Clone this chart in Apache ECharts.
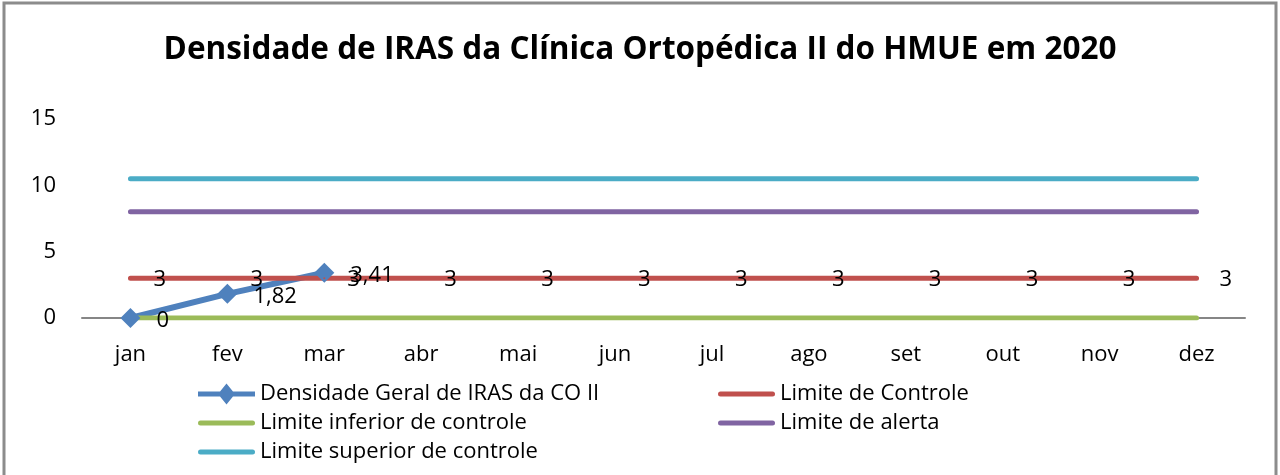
<!DOCTYPE html>
<html>
<head>
<meta charset="utf-8">
<script src="https://cdn.jsdelivr.net/npm/echarts@6/dist/echarts.min.js"></script>
<style>
  html, body { margin: 0; padding: 0; background: #fff; }
  #chart { width: 1280px; height: 475px; }
</style>
</head>
<body>
<div id="chart"></div>
<script>
// meses
const months = ["jan", "fev", "mar", "abr", "mai", "jun", "jul", "ago", "set", "out", "nov", "dez"];
// densidade geral (só jan-mar)
const densidade = [0, 1.82, 3.41];
const limiteControle = [3, 3, 3, 3, 3, 3, 3, 3, 3, 3, 3, 3];
const limiteInferior = [0, 0, 0, 0, 0, 0, 0, 0, 0, 0, 0, 0];
const limiteAlerta = [8, 8, 8, 8, 8, 8, 8, 8, 8, 8, 8, 8];
const limiteSuperior = [10.5, 10.5, 10.5, 10.5, 10.5, 10.5, 10.5, 10.5, 10.5, 10.5, 10.5, 10.5];
const yTicks = [0, 5, 10, 15];

const font = "'Open Sans', sans-serif";
const myChart = echarts.init(document.getElementById("chart"));

// icones da legenda
const barIcon = "path://M2.5,0 L54.5,0 Q57,0 57,2.5 Q57,5 54.5,5 L2.5,5 Q0,5 0,2.5 Q0,0 2.5,0 Z";
const diamondIcon = "path://M0,8 L57,8 L57,13 L0,13 Z M28.5,0 L37,10.5 L28.5,21 L20,10.5 Z";

const flatLine = (name, data, color, withLabel) => ({
  name: name,
  type: "line",
  data: data,
  symbol: withLabel ? "circle" : "none",
  symbolSize: 2,
  lineStyle: { color: color, width: 5, cap: "round" },
  itemStyle: { color: color },
  label: withLabel ? {
    show: true,
    position: "right",
    offset: [17, 2],
    color: "#000",
    fontSize: 22,
    fontFamily: font
  } : { show: false },
  emphasis: { disabled: true },
  animation: false
});

const legendText = { color: "#000", fontSize: 22, fontFamily: font };

let option = {
  animation: false,
  title: {
    text: "Densidade de IRAS da Clínica Ortopédica II do HMUE em 2020",
    left: "center",
    top: 29,
    textStyle: { fontFamily: font, fontWeight: "bold", fontSize: 31.5, color: "#000" }
  },
  graphic: [{
    type: "rect",
    shape: { x: 4, y: 3, width: 1272, height: 520 },
    style: { fill: "none", stroke: "#8c8c8c", lineWidth: 3 },
    silent: true
  }],
  grid: { left: 82, right: 35, top: 119, bottom: 157 },
  legend: [
    {
      orient: "vertical",
      left: 193,
      top: 378,
      itemWidth: 57,
      itemHeight: 21,
      itemGap: 7,
      textStyle: legendText,
      data: [
        { name: "Densidade Geral de IRAS da CO II", icon: diamondIcon },
        { name: "Limite inferior de controle", icon: barIcon },
        { name: "Limite superior de controle", icon: barIcon }
      ]
    },
    {
      orient: "vertical",
      left: 713,
      top: 378,
      itemWidth: 57,
      itemHeight: 21,
      itemGap: 7,
      textStyle: legendText,
      data: [
        { name: "Limite de Controle", icon: barIcon },
        { name: "Limite de alerta", icon: barIcon }
      ]
    }
  ],
  xAxis: {
    type: "category",
    data: months,
    boundaryGap: true,
    axisLine: { show: true, lineStyle: { color: "#868686", width: 2 } },
    axisTick: { show: false },
    axisLabel: { color: "#000", fontSize: 22, fontFamily: font, margin: 26 }
  },
  yAxis: {
    type: "value",
    min: yTicks[0],
    max: yTicks[yTicks.length - 1],
    interval: 5,
    axisLine: { show: false },
    axisTick: { show: false },
    splitLine: { show: false },
    axisLabel: { color: "#000", fontSize: 22, fontFamily: font, margin: 26 }
  },
  series: [
    {
      name: "Densidade Geral de IRAS da CO II",
      type: "line",
      data: densidade,
      symbol: "diamond",
      symbolSize: 20,
      lineStyle: { color: "#4F81BD", width: 6 },
      itemStyle: { color: "#4F81BD" },
      label: {
        show: true,
        position: "right",
        offset: [11, 3],
        color: "#000",
        fontSize: 22,
        fontFamily: font,
        formatter: p => String(p.value).replace(".", ",")
      },
      emphasis: { disabled: true }
    },
    flatLine("Limite de Controle", limiteControle, "#C0504D", true),
    flatLine("Limite inferior de controle", limiteInferior, "#9BBB59", false),
    flatLine("Limite de alerta", limiteAlerta, "#8064A2", false),
    flatLine("Limite superior de controle", limiteSuperior, "#4BACC6", false)
  ]
};
myChart.setOption(option);
window.addEventListener("resize", () => myChart.resize());
</script>
</body>
</html>
